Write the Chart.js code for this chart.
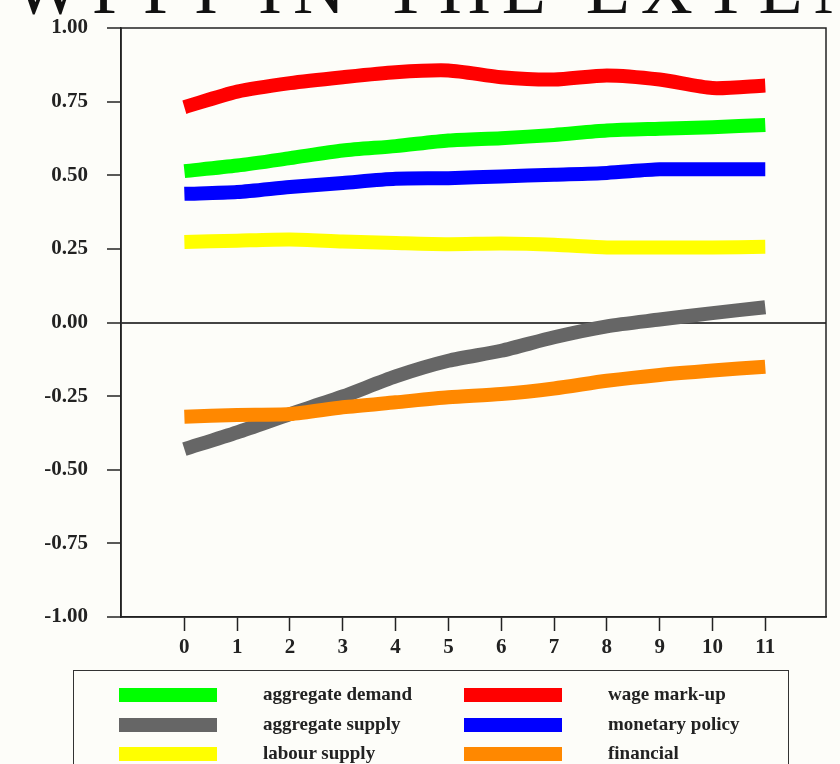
<!DOCTYPE html>
<html>
<head>
<meta charset="utf-8">
<script src="https://cdn.jsdelivr.net/npm/chart.js@4.4.1/dist/chart.umd.min.js"></script>
<style>
  html, body { margin: 0; padding: 0; background: #fdfdf9; overflow: hidden; }
  #wrap { position: relative; width: 840px; height: 764px; overflow: hidden; }
  #title { position: absolute; left: 13px; top: -47px; font: 72px/1 "Liberation Serif", serif; letter-spacing: 11px; white-space: nowrap; color: #111; }
  #chart { position: absolute; left: 0; top: 0; }
  #legend { position: absolute; left: 73px; top: 670px; width: 716px; height: 130px; border: 1.5px solid #333; box-sizing: border-box; }
  #legend .sw { position: absolute; width: 98px; height: 14px; }
  #legend .lb { position: absolute; font: bold 19px "Liberation Serif", serif; color: #222; white-space: nowrap; line-height: 20px; }
</style>
</head>
<body>
<div id="wrap">
  <div id="title">WPPI IN THE EXTENDED MODEL</div>
  <canvas id="chart" width="840" height="764"></canvas>
  <div id="legend"></div>
</div>
<script>
// horizons
const xLabels = [0, 1, 2, 3, 4, 5, 6, 7, 8, 9, 10, 11];
const yTicks = [-1, -0.75, -0.5, -0.25, 0, 0.25, 0.5, 0.75, 1];

// legend order: left column, right column
const names = ['aggregate demand', 'wage mark-up', 'aggregate supply', 'monetary policy', 'labour supply', 'financial'];
const colors = ['#00ff00', '#ff0000', '#666666', '#0000ff', '#ffff00', '#ff8800'];

const aggDemand  = [0.514, 0.533, 0.558, 0.584, 0.599, 0.618, 0.626, 0.637, 0.652, 0.658, 0.663, 0.671];
const wageMarkup = [0.731, 0.784, 0.813, 0.833, 0.850, 0.856, 0.833, 0.825, 0.839, 0.825, 0.796, 0.805];
const aggSupply  = [-0.430, -0.373, -0.311, -0.251, -0.183, -0.130, -0.096, -0.050, -0.013, 0.010, 0.032, 0.052];
const monetary   = [0.437, 0.443, 0.460, 0.474, 0.488, 0.490, 0.496, 0.502, 0.508, 0.520, 0.520, 0.520];
const labour     = [0.273, 0.278, 0.282, 0.275, 0.270, 0.266, 0.268, 0.264, 0.255, 0.255, 0.255, 0.257];
const financial  = [-0.320, -0.314, -0.311, -0.288, -0.271, -0.254, -0.243, -0.224, -0.198, -0.178, -0.163, -0.150];

const series = [aggDemand, wageMarkup, aggSupply, monetary, labour, financial];

const tickFont = { family: '"Liberation Serif", serif', size: 21, weight: 'bold' };

const frame = {
  id: 'frame',
  beforeDatasetsDraw(chart) {
    const a = chart.chartArea, ctx = chart.ctx;
    ctx.save();
    ctx.strokeStyle = '#222';
    ctx.lineWidth = 1.5;
    ctx.strokeRect(a.left, a.top, a.right - a.left, a.bottom - a.top);
    ctx.restore();
  }
};

new Chart(document.getElementById('chart'), {
  type: 'line',
  data: {
    datasets: series.map((s, i) => ({
      label: names[i],
      data: s.map((v, j) => ({ x: xLabels[j], y: v })),
      borderColor: colors[i],
      backgroundColor: colors[i],
      borderWidth: 14,
      borderCapStyle: 'butt',
      borderJoinStyle: 'round',
      pointRadius: 0,
      tension: 0.25,
      fill: false,
      order: names[i] === 'financial' ? -1 : 0
    }))
  },
  options: {
    responsive: false,
    animation: false,
    layout: { padding: { top: 28, right: 14, left: 0, bottom: 0 } },
    plugins: { legend: { display: false }, tooltip: { enabled: false }, title: { display: false } },
    scales: {
      x: {
        type: 'linear',
        min: -1.2,
        max: 12.15,
        afterBuildTicks: s => { s.ticks = xLabels.map(v => ({ value: v })); },
        afterFit: s => { s.height = 147; s.paddingLeft = 0; s.paddingRight = 0; },
        ticks: { font: tickFont, color: '#222', padding: 4, maxRotation: 0 },
        grid: { drawOnChartArea: false, tickLength: 14, tickColor: '#222', tickWidth: 1.5 },
        border: { color: '#222', width: 1.5 }
      },
      y: {
        min: -1,
        max: 1,
        afterBuildTicks: s => { s.ticks = yTicks.map(v => ({ value: v })); },
        afterFit: s => { s.width = 121; s.paddingTop = 0; s.paddingBottom = 0; },
        ticks: { font: tickFont, color: '#222', padding: 19, callback: v => v.toFixed(2) },
        grid: {
          color: c => (c.tick && c.tick.value === 0) ? '#444' : 'rgba(0,0,0,0)',
          lineWidth: 2,
          tickLength: 14,
          tickColor: '#222',
          tickWidth: 1.5
        },
        border: { color: '#222', width: 1.5 }
      }
    }
  },
  plugins: [frame]
});

// legend box, two columns
const legend = document.getElementById('legend');
names.forEach((n, i) => {
  const col = i % 2, row = Math.floor(i / 2);
  const sw = document.createElement('div');
  sw.className = 'sw';
  sw.style.background = colors[i];
  sw.style.left = (45 + col * 345) + 'px';
  sw.style.top = (17 + row * 29.5) + 'px';
  legend.appendChild(sw);
  const lb = document.createElement('div');
  lb.className = 'lb';
  lb.textContent = n;
  lb.style.left = (189 + col * 345) + 'px';
  lb.style.top = (13 + row * 29.5) + 'px';
  legend.appendChild(lb);
});
</script>
</body>
</html>
